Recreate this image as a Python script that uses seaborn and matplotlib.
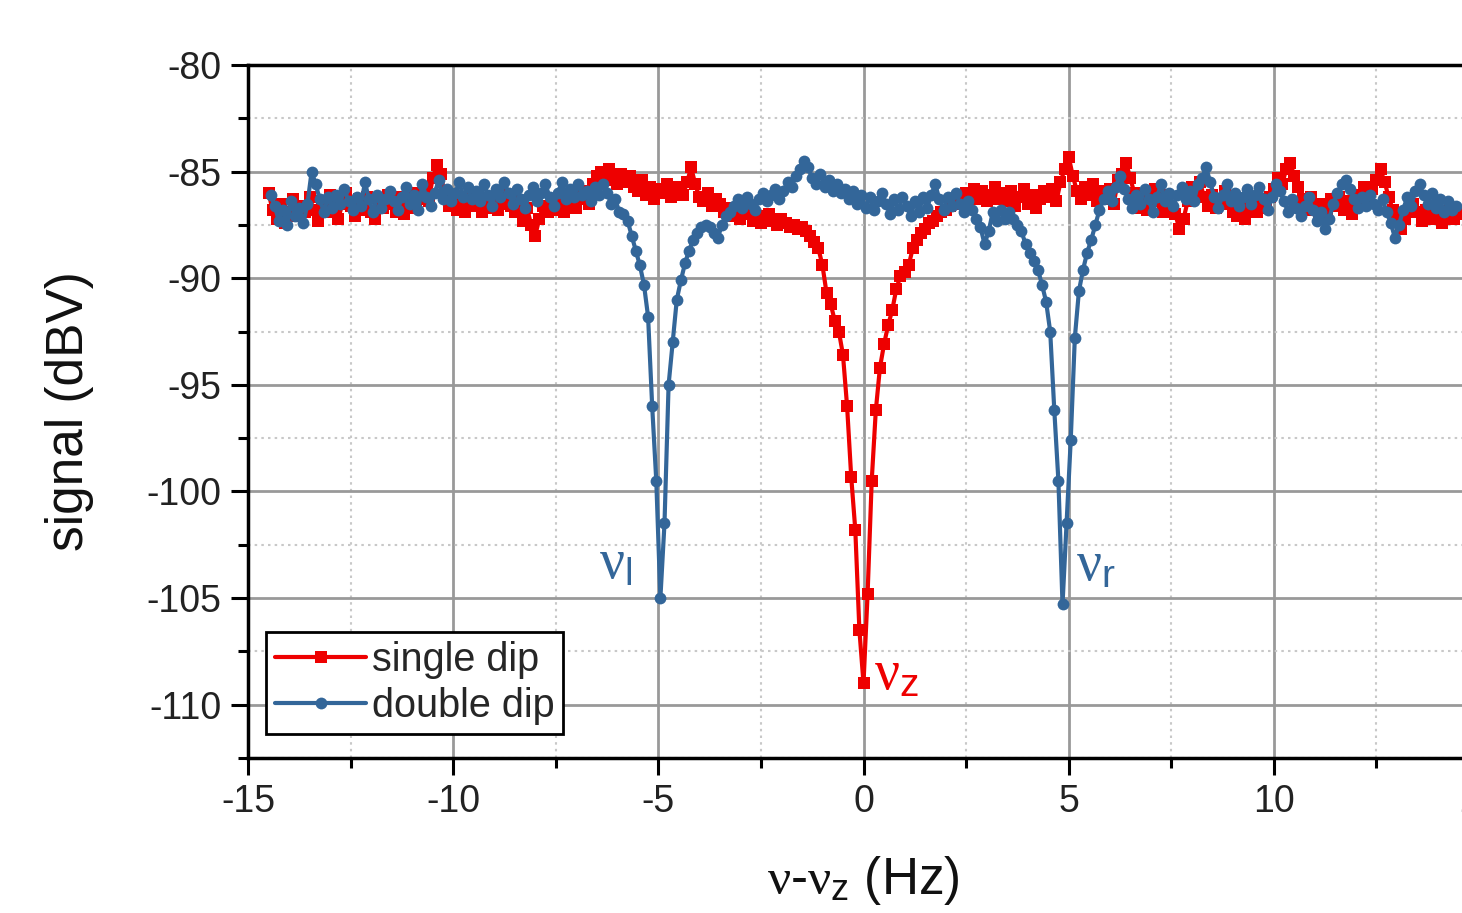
import numpy as np
import pandas as pd
import matplotlib
matplotlib.use("Agg")
import matplotlib.pyplot as plt
import seaborn as sns
from matplotlib.ticker import MultipleLocator

# ---- data ----
# single dip: frequency sweep start / step (Hz), signal values (dBV)
red_start, red_step = -14.5, 0.1
red_y = [
    -86.0, -86.8, -87.2, -86.5, -87.4, -86.9, -86.3, -87.1, -86.6, -86.9,
    -86.2, -86.8, -87.3, -86.4, -86.9, -86.1, -86.7, -87.2, -86.5, -86.0,
    -86.6, -87.1, -86.3, -86.8, -86.2, -86.9, -87.2, -86.4, -86.7, -86.1,
    -86.5, -86.9, -86.2, -87.0, -86.4, -86.0, -86.7, -86.3, -85.8, -86.4,
    -85.3, -84.7, -85.1, -86.2, -86.6, -86.1, -86.8, -86.4, -86.9, -86.2,
    -86.6, -86.1, -86.9, -86.4, -86.7, -86.2, -86.8, -86.5, -86.1, -86.6,
    -86.9, -86.4, -87.3, -86.7, -87.5, -88.0, -87.2, -86.6, -86.9, -86.3,
    -86.8, -86.2, -86.9, -86.4, -86.1, -86.7, -86.3, -85.9, -86.5, -85.6,
    -85.2, -85.0, -85.4, -84.9, -85.3, -85.6, -85.1, -85.5, -85.2, -85.7,
    -85.9, -85.4, -86.1, -85.7, -86.3, -85.8, -86.0, -85.6, -86.2, -85.9,
    -85.7, -86.1, -85.5, -84.8, -85.6, -86.2, -86.4, -86.0, -86.6, -86.3,
    -86.5, -86.9, -86.7, -87.1, -86.8, -87.2, -87.0, -86.8, -87.3, -87.1,
    -87.4, -87.2, -87.0, -87.3, -87.5, -87.2, -87.4, -87.6, -87.5, -87.7,
    -87.6, -87.8, -88.0, -88.3, -88.6, -89.4, -90.7, -91.2, -92.0, -92.5,
    -93.6, -96.0, -99.3, -101.8, -106.5, -109.0, -104.8, -99.5, -96.2, -94.2,
    -93.1, -92.2, -91.5, -90.5, -89.9, -89.7, -89.4, -88.6, -88.2, -87.9,
    -87.7, -87.4, -87.3, -87.1, -86.9, -86.8, -86.6, -86.5, -86.3, -86.4,
    -86.0, -86.2, -85.8, -86.3, -85.9, -86.4, -86.1, -85.7, -86.3, -86.0,
    -86.4, -85.9, -86.6, -86.2, -85.8, -86.5, -86.1, -86.7, -86.3, -85.9,
    -86.2, -85.8, -86.4, -85.5, -84.9, -84.3, -85.2, -85.9, -86.3, -85.7,
    -86.1, -85.6, -86.4, -85.9, -86.3, -85.8, -86.5, -85.4, -85.1, -84.6,
    -85.3, -86.0, -86.7, -86.2, -86.8, -86.3, -85.8, -86.4, -86.9, -86.1,
    -86.6, -87.0, -87.7, -87.2, -86.4, -85.7, -86.1, -85.5, -86.2, -86.6,
    -86.1, -86.7, -86.3, -85.9, -86.5, -86.9, -87.1, -86.6, -87.2, -86.8,
    -86.4, -86.9, -86.3, -86.7, -86.2, -85.8, -85.3, -85.6, -84.9, -84.6,
    -85.2, -85.7, -86.3, -86.8, -86.2, -86.6, -87.0, -86.5, -86.9, -86.3,
    -86.6, -86.2, -86.8, -86.4, -87.0, -86.5, -86.1, -85.7, -86.3, -85.8,
    -85.4, -84.9, -85.5, -86.2, -86.8, -87.3, -87.7, -87.2, -86.9, -86.5,
    -86.9, -87.3, -86.8, -87.2, -86.6, -87.0, -87.4, -87.1, -86.7, -87.2,
    -87.0,
]

# double dip: sweep start / step (Hz), signal values (dBV)
blue_start, blue_step = -14.45, 0.1
blue_y = [
    -86.1, -86.6, -87.3, -86.8, -87.5, -86.4, -87.1, -86.7, -87.4, -86.5,
    -85.0, -85.6, -86.3, -86.9, -86.2, -86.7, -86.1, -86.5, -85.8, -86.4,
    -86.8, -86.2, -86.6, -85.5, -86.3, -86.9, -86.1, -86.7, -86.3, -85.9,
    -86.4, -86.8, -86.2, -85.7, -86.5, -86.1, -86.8, -85.6, -86.2, -86.6,
    -86.0, -85.4, -86.3, -85.8, -86.4, -86.0, -85.5, -86.2, -85.7, -86.3,
    -85.9, -86.4, -85.6, -86.1, -86.6, -85.8, -86.2, -85.5, -86.0, -86.5,
    -85.8, -86.3, -86.7, -86.1, -85.7, -86.4, -86.0, -85.6, -86.2, -86.6,
    -86.0, -85.5, -86.3, -85.8, -86.2, -85.6, -86.1, -85.9, -86.4, -85.7,
    -86.1, -85.6, -86.0, -86.5, -86.3, -86.9, -87.0, -87.3, -88.0, -88.7,
    -89.4, -90.3, -91.8, -96.0, -99.5, -105.0, -101.5, -95.0, -93.0, -91.0,
    -90.1, -89.3, -88.7, -88.2, -87.9, -87.6, -87.5, -87.6, -87.9, -88.1,
    -87.5, -87.1, -86.9, -86.6, -86.3, -86.7, -86.2, -86.5, -86.8, -86.3,
    -86.0, -86.4, -86.1, -85.8, -86.3, -85.9, -85.5, -85.7, -85.2, -84.9,
    -84.5, -84.8, -85.3, -85.6, -85.1, -85.7, -85.4, -85.9, -85.6, -86.0,
    -85.8, -86.3, -85.9, -86.5, -86.1, -86.7, -86.2, -86.8, -86.4, -86.0,
    -86.5, -87.0, -86.3, -86.8, -86.2, -86.6, -87.1, -86.4, -86.9, -86.2,
    -86.7, -86.1, -85.6, -86.3, -86.8, -86.2, -86.6, -86.0, -86.5, -86.9,
    -86.4, -86.8, -87.2, -87.6, -88.4, -87.8, -86.9, -87.3, -86.8, -87.2,
    -86.9, -87.2, -87.5, -87.8, -88.4, -88.8, -89.2, -89.6, -90.3, -91.1,
    -92.5, -96.2, -99.5, -105.3, -101.5, -97.6, -92.8, -90.6, -89.6, -88.8,
    -88.2, -87.5, -86.8, -86.3, -85.9, -86.4, -85.7, -85.2, -85.8, -86.3,
    -86.7, -86.1, -86.5, -85.8, -86.3, -86.9, -86.2, -85.6, -86.4, -86.0,
    -86.6, -86.1, -85.7, -86.3, -85.9, -86.4, -85.6, -85.3, -84.8, -85.5,
    -86.2, -86.7, -86.1, -85.6, -86.4, -86.0, -86.6, -86.2, -85.8, -86.5,
    -86.1, -85.7, -86.3, -86.8, -86.2, -85.6, -85.9, -86.4, -86.9, -86.3,
    -86.7, -87.1, -86.6, -86.2, -86.8, -87.3, -86.9, -87.7, -87.2, -86.5,
    -86.0, -85.6, -85.4, -85.8, -86.3, -86.7, -86.2, -86.6, -86.1, -86.5,
    -86.8, -86.3, -86.9, -87.4, -88.1, -87.5, -86.8, -86.2, -86.6, -85.9,
    -85.6, -86.1, -86.5, -86.0, -86.7, -86.3, -86.9, -86.4, -86.8, -86.6,
]

series_names = ["single dip", "double dip"]
series_colors = ["#EE0000", "#336699"]
peak_labels = [r"$\nu_{\mathsf{l}}$", r"$\nu_{\mathsf{z}}$", r"$\nu_{\mathsf{r}}$"]
peak_label_x = [-6.05, 0.8, 5.65]
peak_label_y = [-103.4, -108.6, -103.5]
peak_label_col = ["#336699", "#EE0000", "#336699"]

red_x = np.round(red_start + red_step * np.arange(len(red_y)), 3)
blue_x = np.round(blue_start + blue_step * np.arange(len(blue_y)), 3)
df = pd.concat([
    pd.DataFrame({"f": red_x, "s": red_y, "series": series_names[0]}),
    pd.DataFrame({"f": blue_x, "s": blue_y, "series": series_names[1]}),
])

# ---- plotting ----
sns.set_theme(style="white")
plt.rcParams["font.family"] = ["Liberation Sans", "DejaVu Sans"]
plt.rcParams["axes.unicode_minus"] = False
plt.rcParams["mathtext.fontset"] = "custom"
plt.rcParams["mathtext.it"] = "Liberation Serif"
plt.rcParams["mathtext.rm"] = "Liberation Serif"
plt.rcParams["mathtext.sf"] = "Liberation Sans"

fig = plt.figure(figsize=(14.62, 9.13), dpi=100)
ax = fig.add_axes([248 / 1462, 155 / 913, 1231 / 1462, 693 / 913])

markers = ["s", "o"]
msizes = [8.5, 8.5]
for name, col, mk, ms in zip(series_names, series_colors, markers, msizes):
    sns.lineplot(data=df[df["series"] == name], x="f", y="s", ax=ax,
                 color=col, linewidth=3, marker=mk, markersize=ms,
                 markeredgewidth=0, label=name, sort=False)

ax.set_xlim(-15, 15)
ax.set_ylim(-112.5, -80)
ax.xaxis.set_major_locator(MultipleLocator(5))
ax.xaxis.set_minor_locator(MultipleLocator(2.5))
ax.yaxis.set_major_locator(MultipleLocator(5))
ax.yaxis.set_minor_locator(MultipleLocator(2.5))

ax.grid(which="major", color="#999999", linewidth=2.0, linestyle="-")
ax.grid(which="minor", color="#c8c8c8", linewidth=1.5, linestyle=(0, (1.2, 2.0)))
ax.set_axisbelow(True)

for side in ["left", "bottom", "top"]:
    ax.spines[side].set_visible(True)
    ax.spines[side].set_color("black")
    ax.spines[side].set_linewidth(2.5)
ax.spines["right"].set_visible(False)

ax.tick_params(which="major", direction="out", length=12, width=2.2,
               colors="black", labelsize=27, labelcolor="#222222",
               bottom=True, left=True, top=False, right=False, pad=7)
ax.tick_params(which="minor", direction="out", length=7, width=2.2,
               colors="black", bottom=True, left=True, top=False, right=False)

ax.set_xlabel(r"$\nu$-$\nu_{\mathsf{z}}$ (Hz)", fontsize=37, labelpad=24,
              color="#111111")
ax.set_ylabel("signal (dBV)", fontsize=37, labelpad=38, color="#111111")

for t, x, y, c in zip(peak_labels, peak_label_x, peak_label_y, peak_label_col):
    ax.text(x, y, t, color=c, fontsize=40, ha="center", va="center")

leg = ax.legend(loc="lower left", bbox_to_anchor=(0.015, 0.035), fontsize=28.5,
                frameon=True, fancybox=False, framealpha=1, edgecolor="black",
                handlelength=2.3, handletextpad=0.15, borderpad=0.22,
                labelspacing=0.2, borderaxespad=0)
leg.get_frame().set_linewidth(2)

fig.savefig("out.png", dpi=100)
